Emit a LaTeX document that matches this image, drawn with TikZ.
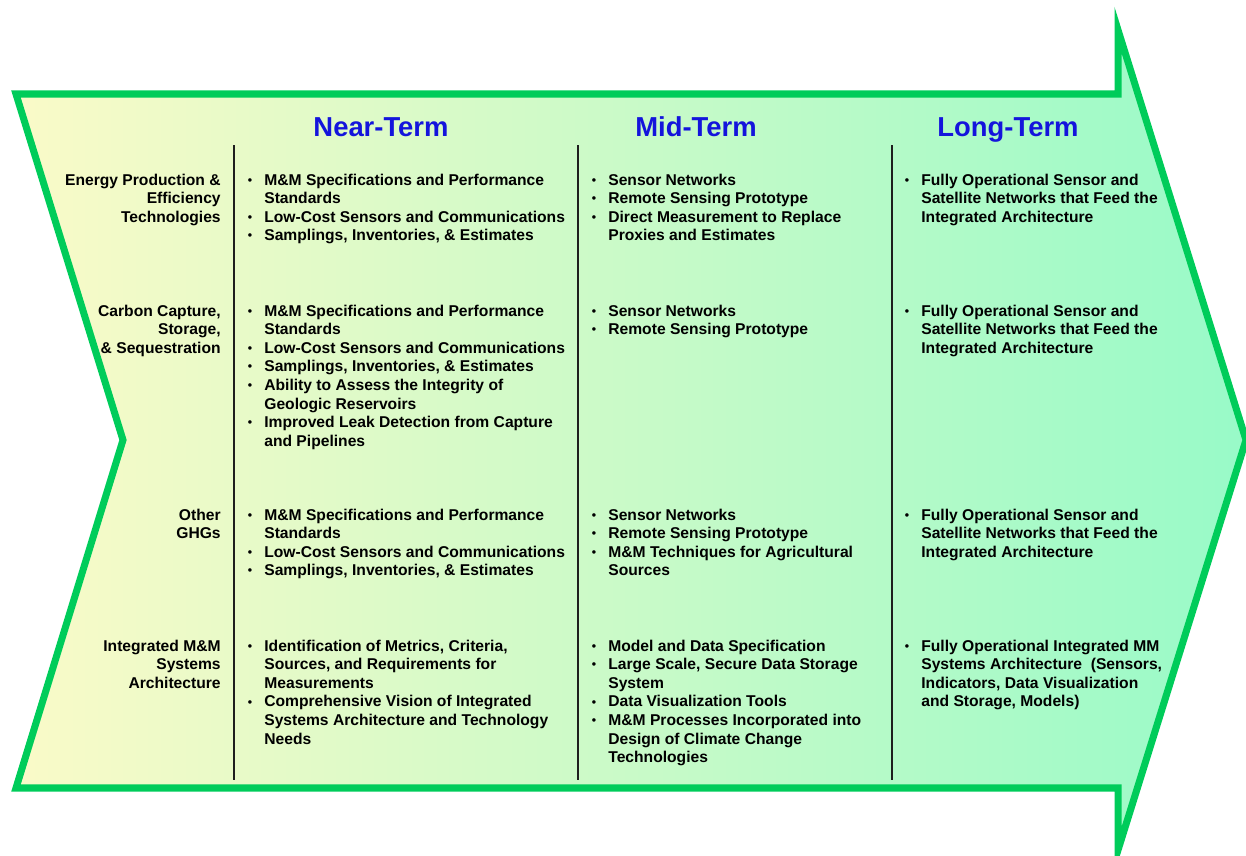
\documentclass[tikz,border=0pt]{standalone}
\usepackage{fontspec}
\setmainfont{Liberation Sans}
\definecolor{arrowgreen}{RGB}{0,204,90}
\definecolor{fillyellow}{RGB}{250,250,200}
\definecolor{fillmid}{RGB}{220,250,205}
\definecolor{fillmint}{RGB}{152,250,200}
\definecolor{headblue}{RGB}{20,20,220}
\definecolor{dividergray}{RGB}{30,30,30}
\newcommand{\bodyfont}{\fontsize{8.9}{10.6}\selectfont\bfseries}
\newcommand{\headfont}{\fontsize{15.6}{18}\selectfont\bfseries}
\newcommand{\bl}{\llap{\raisebox{0.5pt}{\fontsize{7}{7}\selectfont\textbullet}\hspace{7pt}}}
\newcommand{\lines}[1]{\begin{tabular}[t]{@{}l@{}}#1\end{tabular}}
\newcommand{\rlines}[1]{\begin{tabular}[t]{@{}r@{}}#1\end{tabular}}

\begin{document}
\begin{tikzpicture}[x=0.02cm,y=-0.02cm,
    rowlabel/.style={anchor=base east,inner sep=0pt,font=\bodyfont},
    cell/.style={anchor=base west,inner sep=0pt,font=\bodyfont},
    header/.style={anchor=base,inner sep=0pt,font=\headfont,text=headblue},
    divider/.style={line width=1.3pt,draw=dividergray}]
    \useasboundingbox (0,0) rectangle (1246,855);
    % big arrow
    \draw[line width=4pt,draw=arrowgreen,left color=fillyellow,middle color=fillmid,right color=fillmint]
        (16,94) -- (1118,94) -- (1118,30) -- (1246,440) -- (1118,850) -- (1118,788) -- (16,788) -- (123,440) -- cycle;
    \foreach \x in {234,578,892}
        \draw[divider] (\x,145) -- (\x,780);

    % column headers
    \node[header] (hdnear) at (381,136) {Near-Term};
    \node[header] (hdmid) at (696,136) {Mid-Term};
    \node[header] (hdlong) at (1008,136) {Long-Term};

    % row labels
    \node[rowlabel] (lblenergy) at (221,185) {\rlines{Energy Production \&\\ Efficiency\\ Technologies}};
    \node[rowlabel] (lblcarbon) at (221,316) {\rlines{Carbon Capture,\\ Storage,\\ \& Sequestration}};
    \node[rowlabel] (lblghg) at (221,520) {\rlines{Other\\ GHGs}};
    \node[rowlabel] (lblarch) at (221,651) {\rlines{Integrated M\&M\\ Systems\\ Architecture}};

    % near-term
    \node[cell] (near1) at (264,185) {\lines{\bl M\&M Specifications and Performance\\ Standards\\
        \bl Low-Cost Sensors and Communications\\ \bl Samplings, Inventories, \& Estimates}};
    \node[cell] (near2) at (264,316) {\lines{\bl M\&M Specifications and Performance\\ Standards\\
        \bl Low-Cost Sensors and Communications\\ \bl Samplings, Inventories, \& Estimates\\
        \bl Ability to Assess the Integrity of\\ Geologic Reservoirs\\
        \bl Improved Leak Detection from Capture\\ and Pipelines}};
    \node[cell] (near3) at (264,520) {\lines{\bl M\&M Specifications and Performance\\ Standards\\
        \bl Low-Cost Sensors and Communications\\ \bl Samplings, Inventories, \& Estimates}};
    \node[cell] (near4) at (264,651) {\lines{\bl Identification of Metrics, Criteria,\\
        Sources, and Requirements for\\ Measurements\\
        \bl Comprehensive Vision of Integrated\\ Systems Architecture and Technology\\ Needs}};

    % mid-term
    \node[cell] (mid1) at (608,185) {\lines{\bl Sensor Networks\\ \bl Remote Sensing Prototype\\
        \bl Direct Measurement to Replace\\ Proxies and Estimates}};
    \node[cell] (mid2) at (608,316) {\lines{\bl Sensor Networks\\ \bl Remote Sensing Prototype}};
    \node[cell] (mid3) at (608,520) {\lines{\bl Sensor Networks\\ \bl Remote Sensing Prototype\\
        \bl M\&M Techniques for Agricultural\\ Sources}};
    \node[cell] (mid4) at (608,651) {\lines{\bl Model and Data Specification\\
        \bl Large Scale, Secure Data Storage\\ System\\ \bl Data Visualization Tools\\
        \bl M\&M Processes Incorporated into\\ Design of Climate Change\\ Technologies}};

    % long-term
    \node[cell] (long1) at (921,185) {\lines{\bl Fully Operational Sensor and\\
        Satellite Networks that Feed the\\ Integrated Architecture}};
    \node[cell] (long2) at (921,316) {\lines{\bl Fully Operational Sensor and\\
        Satellite Networks that Feed the\\ Integrated Architecture}};
    \node[cell] (long3) at (921,520) {\lines{\bl Fully Operational Sensor and\\
        Satellite Networks that Feed the\\ Integrated Architecture}};
    \node[cell] (long4) at (921,651) {\lines{\bl Fully Operational Integrated MM\\
        Systems Architecture~ (Sensors,\\ Indicators, Data Visualization\\ and Storage, Models)}};
\end{tikzpicture}
\end{document}
